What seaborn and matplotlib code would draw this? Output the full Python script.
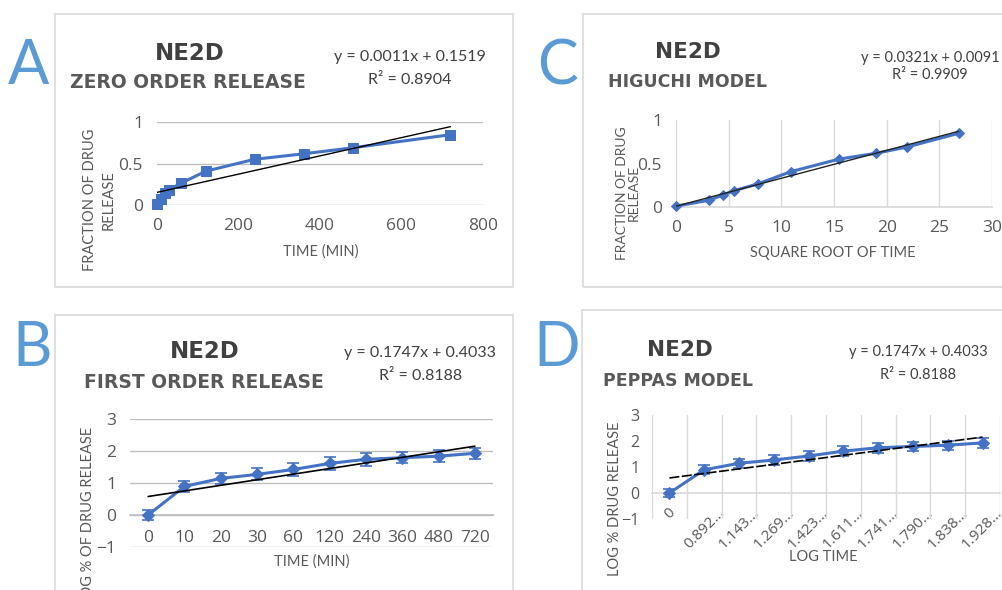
import numpy as np
import seaborn as sns
import matplotlib
matplotlib.use("Agg")
import matplotlib.pyplot as plt
from matplotlib.patches import Rectangle

# Sampling times and measured release of formulation NE2D
time_min = [0, 10, 20, 30, 60, 120, 240, 360, 480, 720]
time_labels = ["0", "10", "20", "30", "60", "120", "240", "360", "480", "720"]
fraction_release = [0.01, 0.078, 0.139, 0.186, 0.265, 0.408, 0.551, 0.617, 0.689, 0.847]
sqrt_time = [0, 3.16, 4.47, 5.48, 7.75, 10.95, 15.49, 18.97, 21.91, 26.83]
log_pct_release = [0, 0.892, 1.143, 1.269, 1.423, 1.611, 1.741, 1.790, 1.838, 1.928]
log_pct_err = [0.17, 0.17, 0.18, 0.19, 0.20, 0.20, 0.20, 0.17, 0.18, 0.18]
log_time_labels = ["0", "0.892…", "1.143…", "1.269…", "1.423…",
                   "1.611…", "1.741…", "1.790…", "1.838…", "1.928…"]

# Linear trend fits: slope, intercept, R²
zero_order_fit = (0.0011, 0.1519, 0.8904)
higuchi_fit = (0.0321, 0.0091, 0.9909)
first_order_fit = (0.1747, 0.4033, 0.8188)
peppas_fit = (0.1747, 0.4033, 0.8188)

sns.set_theme(style="white")
plt.rcParams["font.family"] = ["Open Sans", "DejaVu Sans"]

BLUE = "#4472C4"
LETTER = "#5B9BD5"
TXT = "#595959"
DARK = "#404040"
GRID = "#bfbfbf"
LIGHT = "#d9d9d9"

W, H = 1002, 590
fig = plt.figure(figsize=(W / 100, H / 100), dpi=100)
fig.patch.set_facecolor("white")


def axes_px(left, top, right, bottom):
    return fig.add_axes([left / W, 1 - bottom / H, (right - left) / W, (bottom - top) / H])


def text_px(x, y, s, **kw):
    kw.setdefault("ha", "center")
    kw.setdefault("va", "center")
    return fig.text(x / W, 1 - y / H, s, **kw)


def frame_px(left, top, right, bottom):
    fig.patches.append(Rectangle((left / W, 1 - bottom / H), (right - left) / W,
                                 (bottom - top) / H, transform=fig.transFigure,
                                 fill=False, ec=LIGHT, lw=1.2, zorder=0))


def panel_text(letter, letter_xy, title_xy, subtitle, sub_xy, eq_xy, r2_xy, fit,
               title_size=16.5, sub_size=13.5, eq_size=11.5):
    slope, intercept, r2 = fit
    text_px(*letter_xy, letter, fontsize=44, color=LETTER, family="Lato")
    text_px(*title_xy, "NE2D", fontsize=title_size, fontweight="bold", color=DARK,
            family="DejaVu Sans")
    text_px(*sub_xy, subtitle, fontsize=sub_size, fontweight="bold", color=TXT,
            family="DejaVu Sans")
    text_px(*eq_xy, f"y = {slope:.4f}x + {intercept:.4f}", fontsize=eq_size,
            color=DARK, family="Lato")
    text_px(*r2_xy, f"R² = {r2:.4f}", fontsize=eq_size, color=DARK, family="Lato")


def style_axes(ax, pad_x, pad_y):
    ax.set_facecolor("none")
    for s in ax.spines.values():
        s.set_visible(False)
    ax.tick_params(axis="both", length=0, labelsize=12.5, labelcolor=TXT)
    ax.tick_params(axis="x", pad=pad_x)
    ax.tick_params(axis="y", pad=pad_y)
    ax.set_xlabel("")
    ax.set_ylabel("")


# Panel frames
frame_px(55, 14, 513, 287)
frame_px(583, 14, 1010, 287)
frame_px(55, 315, 513, 600)
frame_px(582, 310, 1010, 600)

# ---------- A: zero order release ----------
axA = axes_px(157, 122, 483, 205)
sns.lineplot(x=time_min, y=fraction_release, ax=axA, color=BLUE, lw=2.2,
             marker="s", markersize=7, markeredgecolor=BLUE, clip_on=False, zorder=3)
xs = np.array([time_min[0], time_min[-1]], dtype=float)
axA.plot(xs, zero_order_fit[0] * xs + zero_order_fit[1], color="black", lw=1, zorder=4)
axA.set_xlim(0, 800)
axA.set_ylim(0, 1)
axA.set_xticks([0, 200, 400, 600, 800])
axA.set_yticks([0, 0.5, 1])
axA.set_yticklabels(["0", "0.5", "1"])
style_axes(axA, 9, 10)
axA.yaxis.grid(True, color=GRID, lw=1)
axA.xaxis.grid(False)
panel_text("A", (28, 66), (190, 53), "ZERO ORDER RELEASE", (188, 83), (410, 57), (410, 80),
           zero_order_fit)
text_px(99, 200, "FRACTION OF DRUG\nRELEASE", rotation=90, fontsize=10.5, color=TXT,
        family="Lato", linespacing=1.45)
text_px(321, 252, "TIME (MIN)", fontsize=10.5, color=TXT, family="Lato")

# ---------- C: Higuchi model ----------
axC = axes_px(676, 120, 992, 207)
sns.lineplot(x=sqrt_time, y=fraction_release, ax=axC, color=BLUE, lw=2.2,
             marker="D", markersize=5.5, markeredgecolor=BLUE, clip_on=False, zorder=3)
xs = np.array([sqrt_time[0], sqrt_time[-1]], dtype=float)
axC.plot(xs, higuchi_fit[0] * xs + higuchi_fit[1], color="#222222", lw=1, zorder=4)
axC.set_xlim(0, 30)
axC.set_ylim(0, 1)
axC.set_xticks(range(0, 31, 5))
axC.set_yticks([0, 0.5, 1])
axC.set_yticklabels(["0", "0.5", "1"])
style_axes(axC, 9, 10)
axC.xaxis.grid(True, color=LIGHT, lw=1)
axC.yaxis.grid(False)
axC.spines["bottom"].set_visible(True)
axC.spines["bottom"].set_color(LIGHT)
panel_text("C", (557, 67), (688, 52), "HIGUCHI MODEL", (687, 82), (930, 58), (930, 75),
           higuchi_fit, title_size=15.5, sub_size=12.5, eq_size=10.5)
text_px(628, 193, "FRACTION OF DRUG\nRELEASE", rotation=90, fontsize=10, color=TXT,
        family="Lato", linespacing=1.0)
text_px(833, 253, "SQUARE ROOT OF TIME", fontsize=10.5, color=TXT, family="Lato")

# ---------- B: first order release ----------
posB = np.arange(len(time_labels))
axB = axes_px(130, 419, 493, 547)
sns.lineplot(x=posB, y=log_pct_release, ax=axB, color=BLUE, lw=2.2,
             marker="D", markersize=6, markeredgecolor=BLUE, clip_on=False, zorder=3)
axB.errorbar(posB, log_pct_release, yerr=log_pct_err, fmt="none", ecolor=BLUE,
             elinewidth=1.2, capsize=4, capthick=1.2, zorder=3)
axB.plot(posB, first_order_fit[0] * (posB + 1) + first_order_fit[1],
         color="black", lw=1.2, zorder=4)
axB.set_xlim(-0.5, len(time_labels) - 0.5)
axB.set_ylim(-1, 3)
axB.set_xticks(posB)
axB.set_xticklabels(time_labels)
axB.set_yticks([-1, 0, 1, 2, 3])
style_axes(axB, 11, 10)
axB.yaxis.grid(True, color=GRID, lw=1)
axB.xaxis.grid(False)
axB.spines["bottom"].set_visible(True)
axB.spines["bottom"].set_position(("data", 0))
axB.spines["bottom"].set_color(GRID)
panel_text("B", (32, 348), (205, 352), "FIRST ORDER RELEASE", (204, 383), (420, 353),
           (421, 376), first_order_fit)
text_px(88, 427, "LOG % OF DRUG RELEASE", rotation=90, fontsize=10.5, color=TXT,
        family="Lato", va="top")
text_px(312, 562, "TIME (MIN)", fontsize=10.5, color=TXT, family="Lato")

# ---------- D: Peppas model ----------
posD = np.arange(len(log_time_labels))
axD = axes_px(652, 415, 1000, 519)
sns.lineplot(x=posD, y=log_pct_release, ax=axD, color=BLUE, lw=2.2,
             marker="D", markersize=6, markeredgecolor=BLUE, clip_on=False, zorder=3)
axD.errorbar(posD, log_pct_release, yerr=log_pct_err, fmt="none", ecolor=BLUE,
             elinewidth=1.2, capsize=4, capthick=1.2, zorder=3)
axD.plot(posD, peppas_fit[0] * (posD + 1) + peppas_fit[1],
         color="black", lw=1.2, ls=(0, (6, 1.5)), zorder=4)
axD.set_xlim(-0.5, len(log_time_labels) - 0.5)
axD.set_ylim(-1, 3)
axD.set_xticks(posD)
axD.set_xticklabels(log_time_labels)
axD.set_xticks(np.arange(-0.5, len(log_time_labels)), minor=True)
axD.set_yticks([-1, 0, 1, 2, 3])
style_axes(axD, 9, 9)
axD.tick_params(axis="y", labelsize=11.5)
axD.tick_params(axis="x", labelsize=11, labelrotation=45)
axD.tick_params(axis="x", which="minor", length=0)
for lbl in axD.get_xticklabels():
    lbl.set_horizontalalignment("right")
    lbl.set_verticalalignment("top")
    lbl.set_rotation_mode("anchor")
axD.xaxis.grid(True, which="minor", color=LIGHT, lw=1)
axD.xaxis.grid(False, which="major")
axD.yaxis.grid(False)
axD.spines["bottom"].set_visible(True)
axD.spines["bottom"].set_position(("data", 0))
axD.spines["bottom"].set_color(LIGHT)
panel_text("D", (557, 348), (680, 350), "PEPPAS MODEL", (678, 381), (918, 352), (918, 375),
           peppas_fit, title_size=15.5, sub_size=12.5, eq_size=10.5)
text_px(615, 499, "LOG % DRUG RELEASE", rotation=90, fontsize=10.5, color=TXT, family="Lato")
text_px(823, 557, "LOG TIME", fontsize=10.5, color=TXT, family="Lato")

fig.savefig("out.png", dpi=100, facecolor="white")
